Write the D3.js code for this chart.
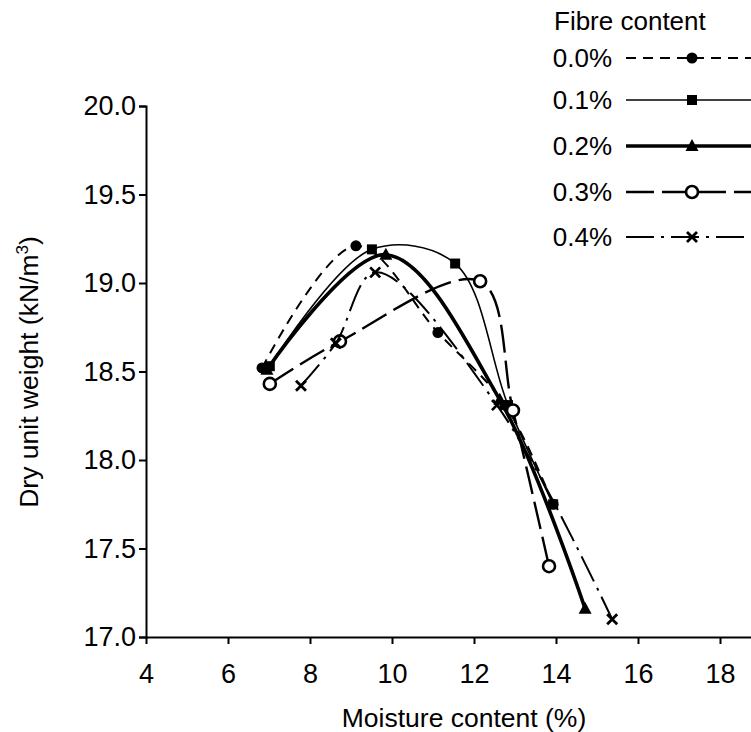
<!DOCTYPE html>
<html>
<head>
<meta charset="utf-8">
<script src="https://cdn.jsdelivr.net/npm/d3@7"></script>
<style>
  html, body { margin: 0; padding: 0; background: #fff; }
  svg { display: block; }
  text { font-family: "Liberation Sans", Arial, sans-serif; fill: #000; }
</style>
</head>
<body>
<svg id="chart" width="751" height="732"></svg>
<script>
// ---- data ----
const seriesNames = ["0.0%", "0.1%", "0.2%", "0.3%", "0.4%"];
const moisture00 = [6.83, 9.12, 11.12, 12.76, 13.93];
const weight00   = [18.52, 19.21, 18.72, 18.31, 17.75];
const moisture01 = [7.02, 9.51, 11.54, 12.83, 13.93];
const weight01   = [18.53, 19.19, 19.11, 18.31, 17.75];
const moisture02 = [6.95, 9.85, 12.63, 14.71];
const weight02   = [18.51, 19.16, 18.34, 17.16];
const moisture03 = [7.02, 8.73, 12.15, 12.95, 13.83];
const weight03   = [18.43, 18.67, 19.01, 18.28, 17.40];
const moisture04 = [7.78, 8.63, 9.59, 12.56, 15.37];
const weight04   = [18.42, 18.66, 19.06, 18.31, 17.10];
const xTicks = [4, 6, 8, 10, 12, 14, 16, 18];
const yTicks = [17.0, 17.5, 18.0, 18.5, 19.0, 19.5, 20.0];

const moistures = [moisture00, moisture01, moisture02, moisture03, moisture04];
const weights = [weight00, weight01, weight02, weight03, weight04];

// ---- styles ----
const styles = [
  { width: 2,   dash: "10,7",        marker: "circle" },
  { width: 1.6, dash: null,          marker: "square" },
  { width: 3.6, dash: null,          marker: "triangle" },
  { width: 2.4, dash: "28,8",        marker: "ocircle" },
  { width: 2,   dash: "28,7,3,7",    marker: "cross" }
];

const svg = d3.select("#chart");
const x = d3.scaleLinear().domain([4, 20]).range([146, 802]);
const y = d3.scaleLinear().domain([17, 20]).range([637, 106]);

// axes
const xAxis = d3.axisBottom(x).tickValues(xTicks).tickSize(7).tickSizeOuter(0).tickPadding(20)
  .tickFormat(d3.format("d"));
const gx = svg.append("g").attr("transform", `translate(0,${y(17)})`).call(xAxis);
gx.select(".domain").attr("stroke-width", 2);
gx.selectAll(".tick line").attr("stroke-width", 2);
gx.selectAll(".tick text").style("font-size", "27px").attr("font-family", "Liberation Sans, Arial, sans-serif");

const yAxis = d3.axisLeft(y).tickValues(yTicks).tickSize(7).tickSizeOuter(7).tickPadding(3)
  .tickFormat(d3.format(".1f"));
const gy = svg.append("g").attr("transform", `translate(${x(4)},0)`).call(yAxis);
gy.select(".domain").attr("stroke-width", 2);
gy.selectAll(".tick line").attr("stroke-width", 2);
gy.selectAll(".tick text").style("font-size", "27px").attr("font-family", "Liberation Sans, Arial, sans-serif");

// axis titles
svg.append("text").attr("x", 464).attr("y", 727).attr("text-anchor", "middle")
  .style("font-size", "26.5px").text("Moisture content (%)");
const yt = svg.append("text").attr("transform", "translate(38,372) rotate(-90)")
  .attr("text-anchor", "middle").style("font-size", "26.5px");
yt.append("tspan").text("Dry unit weight (kN/m");
yt.append("tspan").attr("dy", -10).style("font-size", "17px").text("3");
yt.append("tspan").attr("dy", 10).text(")");

// marker drawing
function drawMarker(g, type, cx, cy) {
  if (type === "circle") {
    g.append("circle").attr("cx", cx).attr("cy", cy).attr("r", 5.5).attr("fill", "#000");
  } else if (type === "square") {
    g.append("rect").attr("x", cx - 5).attr("y", cy - 5).attr("width", 10).attr("height", 10).attr("fill", "#000");
  } else if (type === "triangle") {
    g.append("path").attr("d", `M${cx},${cy - 7}L${cx + 6.5},${cy + 5}L${cx - 6.5},${cy + 5}Z`).attr("fill", "#000");
  } else if (type === "ocircle") {
    g.append("circle").attr("cx", cx).attr("cy", cy).attr("r", 6).attr("fill", "#fff")
      .attr("stroke", "#000").attr("stroke-width", 2.6);
  } else if (type === "cross") {
    g.append("path").attr("d", `M${cx - 5},${cy - 5}L${cx + 5},${cy + 5}M${cx + 5},${cy - 5}L${cx - 5},${cy + 5}`)
      .attr("stroke", "#000").attr("stroke-width", 2.8).attr("fill", "none");
  }
}

const line = d3.line().x(d => x(d[0])).y(d => y(d[1])).curve(d3.curveCatmullRom.alpha(0.5));

const plot = svg.append("g");
seriesNames.forEach((name, i) => {
  const pts = moistures[i].map((m, j) => [m, weights[i][j]]);
  const st = styles[i];
  plot.append("path").datum(pts).attr("d", line).attr("fill", "none")
    .attr("stroke", "#000").attr("stroke-width", st.width)
    .attr("stroke-dasharray", st.dash);
  pts.forEach(p => drawMarker(plot, st.marker, x(p[0]), y(p[1])));
});

// legend
const lg = svg.append("g");
lg.append("text").attr("x", 554).attr("y", 30).style("font-size", "26px").text("Fibre content");
const rowsY = [58, 100, 146, 192, 237];
seriesNames.forEach((name, i) => {
  const st = styles[i];
  lg.append("text").attr("x", 612).attr("y", rowsY[i] + 9).attr("text-anchor", "end")
    .style("font-size", "26px").text(name);
  lg.append("line").attr("x1", 626).attr("x2", 751).attr("y1", rowsY[i]).attr("y2", rowsY[i])
    .attr("stroke", "#000").attr("stroke-width", st.width).attr("stroke-dasharray", st.dash);
  drawMarker(lg, st.marker, 692, rowsY[i]);
});
</script>
</body>
</html>
